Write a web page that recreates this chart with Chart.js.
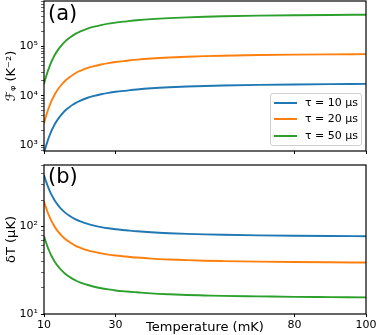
<!DOCTYPE html>
<html>
<head>
<meta charset="utf-8">
<script src="https://cdn.jsdelivr.net/npm/chart.js@4.4.0/dist/chart.umd.min.js"></script>
<style>
  body { margin: 0; background: #fff; }
  #wrap { position: relative; width: 377px; height: 335px; font-family: "DejaVu Sans", sans-serif; }
  canvas { position: absolute; left: 0; }
  .panel { position: absolute; font-size: 21px; line-height: 21px; color: #000; }
  #legend { position: absolute; left: 270px; top: 93px; width: 90px; height: 51px; border: 1px solid #d0d0d0; border-radius: 3px; background: rgba(255,255,255,0.8); font-size: 11px; }
  .row { position: absolute; left: 0; height: 16px; }
  .swatch { position: absolute; left: 3px; width: 23px; height: 2px; }
  .lab { position: absolute; left: 34px; white-space: nowrap; line-height: 12px; }
</style>
</head>
<body>
<div id="wrap">
  <canvas id="topChart" width="377" height="160" style="top:0"></canvas>
  <canvas id="bottomChart" width="377" height="175" style="top:160px"></canvas>
  <div class="panel" style="left:48px; top:3px">(a)</div>
  <div class="panel" style="left:48px; top:166px">(b)</div>
  <div id="legend"></div>
</div>
<script>
// temperature in mK
const temps = [10, 10.5, 11, 11.5, 12, 12.5, 13, 14, 15, 16, 17, 18, 19, 20, 22, 24, 26, 28, 30, 33, 36, 40, 45, 50, 55, 60, 70, 80, 90, 100]

// panel (a): F_phi in K^-2
const fTau10 = [695, 933, 1216, 1538, 1897, 2254, 2661, 3460, 4276, 5094, 5820, 6576, 7296, 7888, 9016, 9956, 10740, 11456, 12052, 12744, 13428, 14156, 14852, 15384, 15796, 16136, 16624, 16960, 17200, 17380]
const fTau20 = [2781, 3733, 4866, 6154, 7587, 9018, 10645, 13840, 17104, 20376, 23280, 26304, 29184, 31552, 36064, 39824, 42960, 45824, 48208, 50976, 53712, 56624, 59408, 61536, 63184, 64544, 66496, 67840, 68800, 69520]
const fTau50 = [17380, 23330, 30410, 38460, 47420, 56360, 66530, 86500, 106900, 127350, 145500, 164400, 182400, 197200, 225400, 248900, 268500, 286400, 301300, 318600, 335700, 353900, 371300, 384600, 394900, 403400, 415600, 424000, 430000, 434500]

// panel (b): deltaT in uK
const dtTau10 = [388, 335, 293.4, 260.9, 235.0, 215.6, 198.4, 174.0, 156.5, 143.4, 134.1, 126.2, 119.8, 115.2, 107.8, 102.6, 98.7, 95.6, 93.2, 90.7, 88.3, 86.0, 84.0, 82.5, 81.4, 80.6, 79.4, 78.6, 78.0, 77.6]
const dtTau20 = [194, 167.5, 146.7, 130.5, 117.5, 107.8, 99.2, 87.0, 78.3, 71.7, 67.1, 63.1, 59.9, 57.6, 53.9, 51.3, 49.4, 47.8, 46.6, 45.4, 44.2, 43.0, 42.0, 41.3, 40.7, 40.3, 39.7, 39.3, 39.0, 38.8]
const dtTau50 = [77.6, 67.0, 58.7, 52.2, 47.0, 43.1, 39.7, 34.8, 31.3, 28.7, 26.8, 25.2, 24.0, 23.0, 21.6, 20.5, 19.7, 19.1, 18.6, 18.1, 17.7, 17.2, 16.8, 16.5, 16.3, 16.1, 15.9, 15.7, 15.6, 15.5]

const seriesNames = ['τ = 10 μs', 'τ = 20 μs', 'τ = 50 μs']
const seriesColors = ['#1f77b4', '#ff7f0e', '#2ca02c']

const xTicks = [10, 30, 80, 100]
const topMajor = [1e3, 1e4, 1e5]
const topMajorLabels = ['10³', '10⁴', '10⁵']
const bottomMajor = [1e1, 1e2]
const bottomMajorLabels = ['10¹', '10²']

const FONT = "'DejaVu Sans', sans-serif"

// build log ticks (majors + 2..9 minors) inside the range
const logTicks = (min, max, majors) => {
  let out = []
  for (let e = Math.floor(Math.log10(min)); e <= Math.ceil(Math.log10(max)); e++) {
    for (let m = 1; m < 10; m++) {
      const v = m * Math.pow(10, e)
      if (v >= min && v <= max) out.push({ value: v, major: majors.includes(v) })
    }
  }
  return out
}

const frame = {
  id: 'frame',
  afterDraw(chart) {
    const a = chart.chartArea
    const ctx = chart.ctx
    ctx.save()
    ctx.strokeStyle = '#000'
    ctx.lineWidth = 1.2
    ctx.strokeRect(a.left, a.top, a.right - a.left, a.bottom - a.top)
    ctx.restore()
  }
}

const makeSets = arrs => arrs.map((arr, i) => ({
  label: seriesNames[i],
  data: temps.map((t, k) => ({ x: t, y: arr[k] })),
  borderColor: seriesColors[i],
  backgroundColor: seriesColors[i],
  borderWidth: 1.9,
  pointRadius: 0,
  cubicInterpolationMode: 'monotone',
  fill: false
}))

const makeChart = (id, sets, opt) => {
  const ctx = document.getElementById(id).getContext('2d')
  return new Chart(ctx, {
    type: 'line',
    data: { datasets: sets },
    plugins: [frame],
    options: {
      responsive: false,
      animation: false,
      devicePixelRatio: 1,
      layout: { padding: { top: opt.padTop, right: 11, left: 0, bottom: 0 } },
      plugins: { legend: { display: false }, tooltip: { enabled: false } },
      scales: {
        x: {
          type: 'linear',
          min: 10,
          max: 100,
          border: { display: false },
          grid: { drawOnChartArea: false, tickLength: 3, tickColor: '#000', tickWidth: 1 },
          ticks: {
            autoSkip: false,
            maxRotation: 0,
            padding: 2,
            color: '#000',
            font: { family: FONT, size: 11 },
            callback: v => opt.showX ? String(v) : ''
          },
          title: {
            display: opt.showX,
            text: 'Temperature (mK)',
            color: '#000',
            font: { family: FONT, size: 13 },
            padding: { top: 0, bottom: 0 }
          },
          afterBuildTicks: s => { s.ticks = xTicks.map(v => ({ value: v })) },
          afterFit: s => {
            s.height = opt.xHeight
            s.paddingLeft = 0
            s.paddingRight = 0
          }
        },
        y: {
          type: 'logarithmic',
          min: opt.yMin,
          max: opt.yMax,
          border: { display: false },
          grid: {
            drawOnChartArea: false,
            tickLength: 3,
            tickColor: '#000',
            tickWidth: c => (c.tick && c.tick.major) ? 1 : 0.6
          },
          ticks: {
            autoSkip: false,
            padding: 3,
            color: '#000',
            font: { family: FONT, size: 11 },
            callback: v => {
              const k = opt.majors.indexOf(v)
              return k >= 0 ? opt.majorLabels[k] : ''
            }
          },
          title: {
            display: true,
            text: opt.yTitle,
            color: '#000',
            font: { family: FONT, size: 13 },
            padding: { top: 4, bottom: 0 }
          },
          afterBuildTicks: s => { s.ticks = logTicks(opt.yMin, opt.yMax, opt.majors) },
          afterFit: s => {
            s.width = 44
            s.paddingTop = 0
            s.paddingBottom = 0
          }
        }
      }
    }
  })
}

makeChart('topChart', makeSets([fTau10, fTau20, fTau50]), {
  padTop: 1, xHeight: 9, showX: false,
  yMin: 767, yMax: 822000,
  majors: topMajor, majorLabels: topMajorLabels,
  yTitle: 'ℱᵩ (K⁻²)'
})

makeChart('bottomChart', makeSets([dtTau10, dtTau20, dtTau50]), {
  padTop: 5, xHeight: 21, showX: true,
  yMin: 10, yMax: 506,
  majors: bottomMajor, majorLabels: bottomMajorLabels,
  yTitle: 'δT (μK)'
})

// legend for panel (a)
const legend = document.getElementById('legend')
const rowTops = [2, 18, 35]
for (let i = 0; i < seriesNames.length; i++) {
  const row = document.createElement('div')
  row.className = 'row'
  row.style.top = rowTops[i] + 'px'
  row.innerHTML = '<div class="swatch" style="top:6px;background:' + seriesColors[i] + '"></div>' +
    '<div class="lab" style="top:1px">' + seriesNames[i] + '</div>'
  legend.appendChild(row)
}
</script>
</body>
</html>
